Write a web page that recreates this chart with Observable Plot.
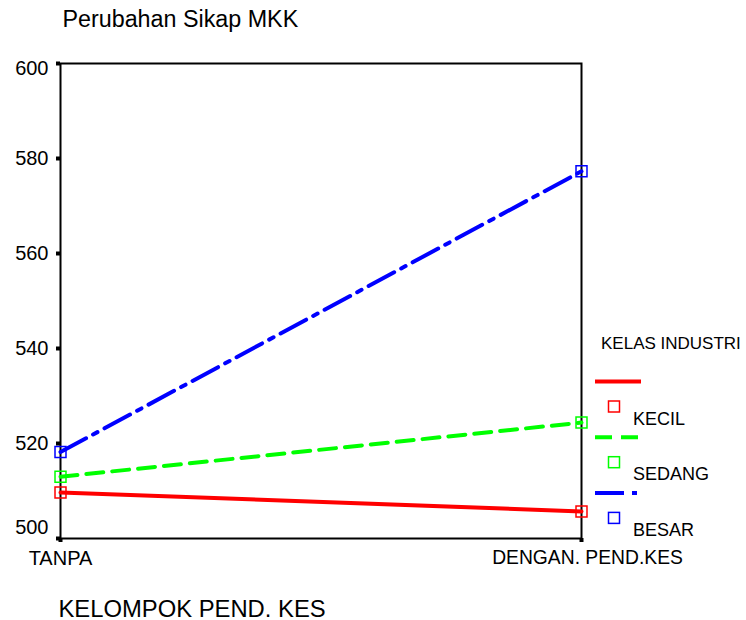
<!DOCTYPE html>
<html>
<head>
<meta charset="utf-8">
<script src="https://cdn.jsdelivr.net/npm/d3@7"></script>
<script src="https://cdn.jsdelivr.net/npm/@observablehq/plot@0.6"></script>
<style>
  html, body { margin: 0; padding: 0; background: white; }
</style>
</head>
<body>
<div id="chart"></div>
<script>
// ---- data ----
const categories = ["TANPA", "DENGAN. PEND.KES"];
const seriesNames = ["KECIL", "SEDANG", "BESAR"];
const kecil = [509.7, 505.7];
const sedang = [513.0, 524.4];
const besar = [518.2, 577.3];
const yTicks = [500, 520, 540, 560, 580, 600];
const chartTitle = "Perubahan Sikap MKK";
const xTitle = "KELOMPOK PEND. KES";
const legendTitle = "KELAS INDUSTRI";

// ---- styles ----
const colors = ["#ff0000", "#00ff00", "#0000ff"];
const dashes = [null, "17,9", "29,8,5,8"];

const values = [kecil, sedang, besar];
const rows = seriesNames.flatMap((s, si) =>
  categories.map((c, ci) => ({ series: s, cat: c, value: values[si][ci] }))
);

const W = 746, H = 620;
const mL = 60, mR = 165, mT = 63, mB = 82;

function legendMark(index, scales, vals, dimensions) {
  const ns = "http://www.w3.org/2000/svg";
  const right = (dimensions ? dimensions.width - dimensions.marginRight : W - mR);
  const g = document.createElementNS(ns, "g");
  g.setAttribute("text-anchor", "start");
  const mk = (tag, attrs, text) => {
    const e = document.createElementNS(ns, tag);
    for (const k in attrs) e.setAttribute(k, attrs[k]);
    if (text != null) e.textContent = text;
    g.appendChild(e);
    return e;
  };
  mk("text", { x: right + 20, y: 349, "font-size": 17, fill: "black", "text-anchor": "start" }, legendTitle);
  seriesNames.forEach((s, i) => {
    const ly = 381.5 + 55.7 * i;
    const attrs = { x1: right + 14, x2: right + 60, y1: ly, y2: ly, stroke: colors[i], "stroke-width": 4 };
    if (dashes[i]) attrs["stroke-dasharray"] = dashes[i];
    mk("line", attrs);
    mk("rect", { x: right + 33 - 5.5, y: ly + 25 - 5.5, width: 11, height: 11, fill: "none", stroke: colors[i], "stroke-width": 1.5 });
    mk("text", { x: right + 52, y: ly + 43, "font-size": 18, fill: "black", "text-anchor": "start" }, s);
  });
  return g;
}

const plot = Plot.plot({
  width: W,
  height: H,
  marginLeft: mL,
  marginRight: mR,
  marginTop: mT,
  marginBottom: mB,
  style: { fontFamily: "'Liberation Sans', Arial, sans-serif", background: "white", color: "black" },
  x: { type: "point", domain: categories, padding: 0, label: null },
  y: { domain: [500, 600], label: null },
  color: { domain: seriesNames, range: colors },
  marks: [
    Plot.frame({ stroke: "black", strokeWidth: 2 }),
    ...seriesNames.map((s, i) =>
      Plot.line(rows.filter(d => d.series === s), {
        x: "cat", y: "value", stroke: colors[i], strokeWidth: 4,
        strokeDasharray: dashes[i] || undefined
      })
    ),
    Plot.dot(rows, { x: "cat", y: "value", stroke: "series", symbol: "square", r: 6.2, strokeWidth: 1.5, fill: "none" }),
    Plot.axisY(yTicks, { tickSize: 4, strokeWidth: 4, tickPadding: 8, fontSize: 20,
      tickFormat: d => (d === 500 || d === 600) ? "" : String(d), label: null }),
    Plot.axisY([600], { tickSize: 0, tickPadding: 12, fontSize: 20, dy: 5, label: null }),
    Plot.axisY([500], { tickSize: 0, tickPadding: 12, fontSize: 20, dy: -11, label: null }),
    Plot.axisX(categories, { tickSize: 4, strokeWidth: 4, tickPadding: 8, fontSize: 20, label: null,
      tickFormat: d => d === categories[0] ? d : "" }),
    Plot.axisX([categories[1]], { tickSize: 0, tickPadding: 12, fontSize: 19.3, dx: 6, label: null }),
    Plot.text([chartTitle], { text: d => d, frameAnchor: "top-left", dx: 2, dy: -53, textAnchor: "start", fontSize: 23.3 }),
    Plot.text([xTitle], { text: d => d, frameAnchor: "bottom-left", dx: -2, dy: 78, textAnchor: "start", fontSize: 23.8 }),
    legendMark
  ]
});

document.getElementById("chart").appendChild(plot);
</script>
</body>
</html>
